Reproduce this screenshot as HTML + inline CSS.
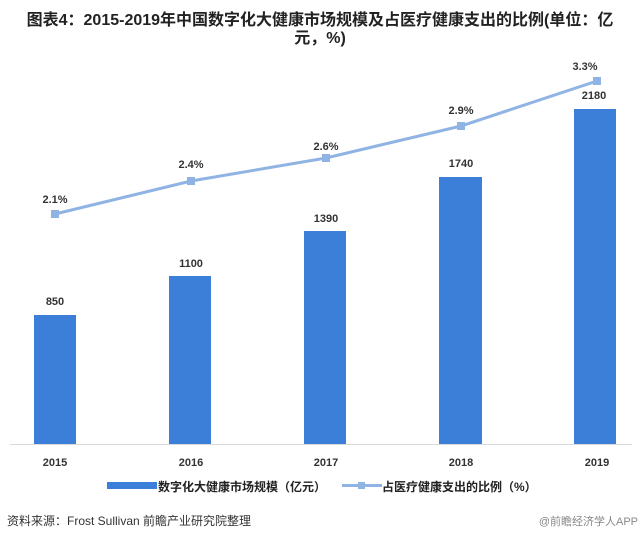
<!DOCTYPE html>
<html><head><meta charset="utf-8"><style>
body{margin:0;background:#fff;}
svg{display:block;font-family:"Liberation Sans","Noto Sans CJK SC",sans-serif;}
</style></head><body>
<svg width="640" height="541" viewBox="0 0 640 541">
<rect width="640" height="541" fill="#fff"/>
<text x="320" y="25" text-anchor="middle" font-size="16" font-weight="bold" fill="#222">图表4：2015-2019年中国数字化大健康市场规模及占医疗健康支出的比例(单位：亿</text>
<text x="320" y="43" text-anchor="middle" font-size="16" font-weight="bold" fill="#222">元，%)</text>
<line x1="10" y1="444.5" x2="632" y2="444.5" stroke="#d9d9d9" stroke-width="1"/>
<g fill="#3b7fd9">
<rect x="34" y="315" width="42" height="129"/>
<rect x="169" y="276" width="42" height="168"/>
<rect x="304" y="231" width="42" height="213"/>
<rect x="439" y="177" width="43" height="267"/>
<rect x="574" y="109" width="42" height="335"/>
</g>
<polyline points="55,214 191,181 326,158 461,126 597,81" fill="none" stroke="#8fb4e3" stroke-width="3"/>
<g fill="#8fb4e3">
<rect x="51" y="210" width="8" height="8"/><rect x="187" y="177" width="8" height="8"/><rect x="322" y="154" width="8" height="8"/><rect x="457" y="122" width="8" height="8"/><rect x="593" y="77" width="8" height="8"/>
</g>
<g font-size="11" font-weight="bold" fill="#333" text-anchor="middle">
<text x="55" y="203">2.1%</text><text x="191" y="168">2.4%</text><text x="326" y="150">2.6%</text><text x="461" y="114">2.9%</text><text x="585" y="70">3.3%</text>
<text x="55" y="305">850</text><text x="191" y="267">1100</text><text x="326" y="222">1390</text><text x="461" y="167">1740</text><text x="594" y="99">2180</text>
<text x="55" y="466">2015</text><text x="191" y="466">2016</text><text x="326" y="466">2017</text><text x="461" y="466">2018</text><text x="597" y="466">2019</text>
</g>
<rect x="107" y="482" width="50" height="7" fill="#3b7fd9"/>
<text x="158" y="491" font-size="12" font-weight="bold" fill="#222">数字化大健康市场规模（亿元）</text>
<line x1="342" y1="485.5" x2="382" y2="485.5" stroke="#8fb4e3" stroke-width="3"/>
<rect x="358" y="482" width="7" height="7" fill="#8fb4e3"/>
<text x="382" y="491" font-size="12" font-weight="bold" fill="#222">占医疗健康支出的比例（%）</text>
<text x="7" y="525" font-size="12" fill="#333">资料来源：Frost Sullivan  前瞻产业研究院整理</text>
<text x="638" y="525" text-anchor="end" font-size="11" fill="#888">@前瞻经济学人APP</text>
</svg>
</body></html>
